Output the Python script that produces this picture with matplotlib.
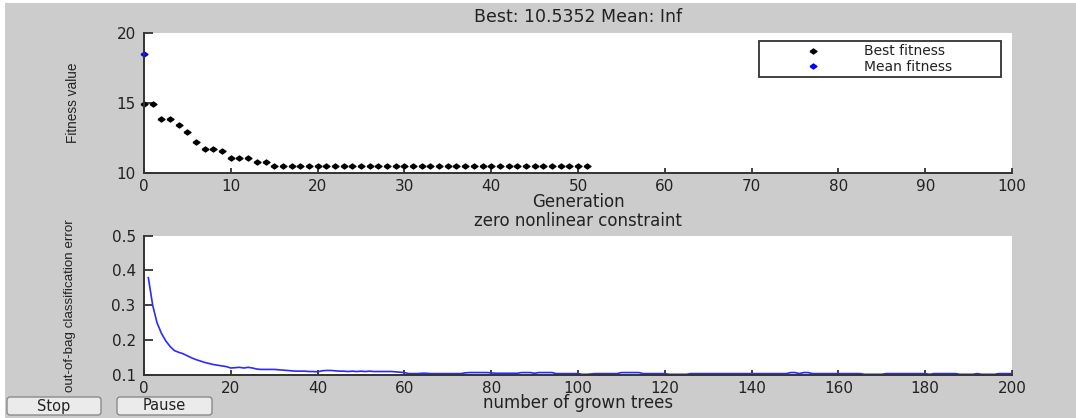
import numpy as np
import matplotlib
matplotlib.use("Agg")
import matplotlib.pyplot as plt
from matplotlib.patches import Rectangle, FancyBboxPatch

# ----------------------------------------------------
# Data
# ----------------------------------------------------
generations = np.arange(0, 52)
best_fitness = [
    14.90, 14.90, 13.86, 13.86, 13.45, 12.93, 12.20, 11.74, 11.74, 11.60,
    11.07, 11.07, 11.07, 10.79, 10.79, 10.5352, 10.5352, 10.5352, 10.5352, 10.5352,
    10.5352, 10.5352, 10.5352, 10.5352, 10.5352, 10.5352, 10.5352, 10.5352, 10.5352, 10.5352,
    10.5352, 10.5352, 10.5352, 10.5352, 10.5352, 10.5352, 10.5352, 10.5352, 10.5352, 10.5352,
    10.5352, 10.5352, 10.5352, 10.5352, 10.5352, 10.5352, 10.5352, 10.5352, 10.5352, 10.5352,
    10.5352, 10.5352,
]
mean_gens = [0]
mean_fitness = [18.5]

trees = np.arange(1, 201)
oob_error = [
    0.379, 0.300, 0.250, 0.220, 0.198, 0.182, 0.170, 0.165, 0.161, 0.155,
    0.149, 0.144, 0.140, 0.136, 0.133, 0.130, 0.128, 0.126, 0.124, 0.120,
    0.121, 0.122, 0.120, 0.122, 0.120, 0.117, 0.116, 0.116, 0.116, 0.116,
    0.115, 0.114, 0.113, 0.112, 0.111, 0.111, 0.111, 0.110, 0.110, 0.109,
    0.112, 0.113, 0.113, 0.112, 0.111, 0.111, 0.110, 0.111, 0.110, 0.111,
    0.110, 0.111, 0.110, 0.110, 0.110, 0.110, 0.110, 0.109, 0.108, 0.107,
    0.104, 0.104, 0.104, 0.105, 0.105, 0.104, 0.104, 0.104, 0.104, 0.104,
    0.104, 0.104, 0.104, 0.106, 0.107, 0.107, 0.107, 0.107, 0.107, 0.106,
    0.105, 0.105, 0.105, 0.105, 0.105, 0.105, 0.107, 0.107, 0.107, 0.105,
    0.107, 0.107, 0.107, 0.107, 0.104, 0.104, 0.104, 0.104, 0.104, 0.104,
    0.102, 0.102, 0.103, 0.104, 0.104, 0.104, 0.104, 0.104, 0.104, 0.107,
    0.107, 0.107, 0.107, 0.107, 0.104, 0.104, 0.104, 0.104, 0.104, 0.104,
    0.102, 0.102, 0.102, 0.102, 0.102, 0.104, 0.104, 0.104, 0.104, 0.104,
    0.104, 0.104, 0.104, 0.104, 0.104, 0.104, 0.104, 0.104, 0.104, 0.104,
    0.104, 0.104, 0.104, 0.104, 0.104, 0.104, 0.104, 0.104, 0.107, 0.107,
    0.104, 0.107, 0.107, 0.104, 0.104, 0.104, 0.104, 0.104, 0.104, 0.104,
    0.104, 0.104, 0.104, 0.104, 0.104, 0.102, 0.102, 0.102, 0.102, 0.102,
    0.104, 0.104, 0.104, 0.104, 0.104, 0.104, 0.104, 0.104, 0.104, 0.104,
    0.102, 0.104, 0.104, 0.104, 0.104, 0.104, 0.104, 0.102, 0.102, 0.102,
    0.102, 0.104, 0.102, 0.102, 0.102, 0.102, 0.104, 0.104, 0.104, 0.104,
]

top_xticks = [0, 10, 20, 30, 40, 50, 60, 70, 80, 90, 100]
top_yticks = [10, 15, 20]
bot_xticks = [0, 20, 40, 60, 80, 100, 120, 140, 160, 180, 200]
bot_yticks = [0.1, 0.2, 0.3, 0.4, 0.5]

# ----------------------------------------------------
# Figure (1076 x 418 px) with Matlab-grey window
# ----------------------------------------------------
W, H = 1076, 418
fig = plt.figure(figsize=(W / 100, H / 100), dpi=100, facecolor="#cccccc")
# thin white screenshot border at the top and left edge
fig.patches.append(Rectangle((0, 0), 5 / 100, H / 100, transform=fig.dpi_scale_trans,
                             facecolor="white", edgecolor="none"))
fig.patches.append(Rectangle((0, (H - 3) / 100), W / 100, 3 / 100,
                             transform=fig.dpi_scale_trans,
                             facecolor="white", edgecolor="none"))

TXT = "#222222"
SPINE = "#333333"
plt.rcParams["font.family"] = ["DejaVu Sans"]

# wide diamond, like Matlab's '.' marker on the stretched screenshot
diamond = [(-1.4, 0), (0, 1), (1.4, 0), (0, -1), (-1.4, 0)]


def px_axes(x0, y0, x1, y1):
    return fig.add_axes([x0 / W, 1 - y1 / H, (x1 - x0) / W, (y1 - y0) / H])


def style(ax):
    for s in ("top", "right"):
        ax.spines[s].set_visible(False)
    for s in ("left", "bottom"):
        ax.spines[s].set_color(SPINE)
        ax.spines[s].set_linewidth(1.4)
    ax.tick_params(axis="x", direction="in", length=3.8, width=1.3, color=SPINE,
                   labelsize=11, labelcolor=TXT, pad=4)
    ax.tick_params(axis="y", direction="in", length=6.5, width=1.3, color=SPINE,
                   labelsize=11, labelcolor=TXT, pad=6)


# ----------------------------------------------------
# Top: GA fitness
# ----------------------------------------------------
ax1 = px_axes(144, 33, 1012, 173)
style(ax1)
ax1.plot(generations, best_fitness, linestyle="none", marker=diamond,
         markersize=5, color="black", label="Best fitness", clip_on=False)
ax1.plot(mean_gens, mean_fitness, linestyle="none", marker=diamond,
         markersize=5, color="blue", label="Mean fitness", clip_on=False)
ax1.set_xlim(0, 100)
ax1.set_ylim(10, 20)
ax1.set_xticks(top_xticks)
ax1.set_yticks(top_yticks)
ax1.set_title("Best: 10.5352 Mean: Inf", fontsize=12.5, color=TXT,
              y=1 + 16 / 140, va="center", pad=0)
ax1.set_xlabel("Generation", fontsize=12, color=TXT, va="center")
ax1.xaxis.set_label_coords(0.5, -(202 - 173) / 140)
ax1.set_ylabel("Fitness value", fontsize=9.8, color=TXT,
               family="Liberation Sans", va="center")
ax1.yaxis.set_label_coords(-71 / 868, 0.5)

leg = ax1.legend(loc="upper left", mode="expand",
                 bbox_to_anchor=(759 / W, 1 - 79 / H, (1001 - 759) / W, (79 - 41) / H),
                 bbox_transform=fig.transFigure, borderaxespad=0, numpoints=1,
                 fontsize=10, borderpad=0.25, labelspacing=0.1,
                 handlelength=7.3, handletextpad=0.0, fancybox=False,
                 framealpha=1, edgecolor=SPINE)
leg.get_frame().set_linewidth(1.3)
for t in leg.get_texts():
    t.set_color(TXT)

# ----------------------------------------------------
# Bottom: out-of-bag error of the random forest
# ----------------------------------------------------
ax2 = px_axes(144, 235.5, 1012, 375)
style(ax2)
ax2.plot(trees, oob_error, color="#2a2aff", linewidth=1.2)
ax2.set_xlim(0, 200)
ax2.set_ylim(0.1, 0.5)
ax2.set_xticks(bot_xticks)
ax2.set_yticks(bot_yticks)
ax2.set_title("zero nonlinear constraint", fontsize=12, color=TXT,
              y=1 + 15 / 139.5, va="center", pad=0)
ax2.set_xlabel("number of grown trees", fontsize=12, color=TXT, va="center")
ax2.xaxis.set_label_coords(0.5, -(403 - 375) / 139.5)
ax2.set_ylabel("out-of-bag classification error", fontsize=9.6, color=TXT,
               family="Liberation Sans", va="center")
ax2.yaxis.set_label_coords(-74 / 868, 0.5)

# ----------------------------------------------------
# Stop / Pause buttons
# ----------------------------------------------------
for label, x0, x1 in [("Stop", 7, 101), ("Pause", 117, 212)]:
    fig.patches.append(FancyBboxPatch((x0 / 100, (H - 415) / 100),
                                      (x1 - x0) / 100, 18 / 100,
                                      boxstyle="round,pad=0,rounding_size=0.03",
                                      transform=fig.dpi_scale_trans,
                                      facecolor="#ebebeb", edgecolor="#8a8a8a",
                                      linewidth=1.0))
    fig.text((x0 + x1) / 2 / W, 1 - 406 / H, label, ha="center", va="center",
             fontsize=10.5, color=TXT)

fig.savefig("out.png", dpi=100, facecolor=fig.get_facecolor())
